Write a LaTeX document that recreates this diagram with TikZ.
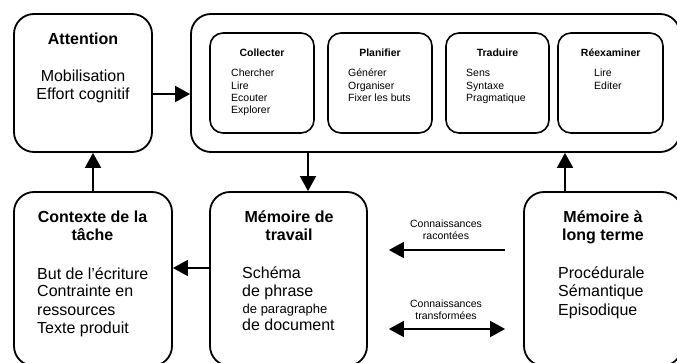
\documentclass[tikz,border=0pt]{standalone}
\usepackage{fontspec}
\setmainfont{Liberation Sans}
\usetikzlibrary{arrows.meta}
\begin{document}
\begin{tikzpicture}[x=1pt,y=-1pt,
  box/.style={draw, line width=1.8pt, rounded corners=20pt, inner sep=0pt},
  subbox/.style={draw, line width=1.6pt, rounded corners=13pt, inner sep=0pt,
                 minimum height=100pt},
  arr/.style={line width=1.8pt, -{Triangle[length=15pt,width=16pt]}},
  dbl/.style={line width=1.8pt, {Triangle[length=15pt,width=16pt]}-{Triangle[length=15pt,width=16pt]}},
  big/.style={font=\fontsize{16}{18}\selectfont, inner sep=0pt},
  bigb/.style={font=\bfseries\fontsize{16}{18}\selectfont, inner sep=0pt, align=center},
  small/.style={font=\fontsize{10.5}{12.3}\selectfont, inner sep=0pt},
  smallb/.style={font=\bfseries\fontsize{10.5}{12.3}\selectfont, inner sep=0pt},
]
\useasboundingbox (0,0) rectangle (677,363);
\clip (0,0) rectangle (677,363);

% top row: attention and the writing process
\node[box, minimum width=138pt, minimum height=138pt] (att) at (83,83) {};
\node[box, minimum width=489pt, minimum height=138pt] (proc) at (435.5,83) {};
\node[subbox, minimum width=104pt] (col) at (262,83) {};
\node[subbox, minimum width=104pt] (pla) at (380,83) {};
\node[subbox, minimum width=103pt] (tra) at (497.5,83) {};
\node[subbox, minimum width=105pt] (ree) at (610.5,83) {};

% bottom row: context, working memory, long-term memory
\node[box, minimum width=158pt, minimum height=174pt] (ctx) at (93,279) {};
\node[box, minimum width=157pt, minimum height=174pt] (mt) at (288.5,279) {};
\node[box, minimum width=158pt, minimum height=174pt] (mlt) at (603,279) {};

% texts (multi-line nodes are placed by the baseline of their last line)
\node[bigb, anchor=base] (att-t) at (83,45) {Attention};
\node[big, anchor=base, align=center] (att-x) at (83,100) {Mobilisation\\Effort cognitif};

\node[smallb, anchor=base] (col-t) at (262,57) {Collecter};
\node[small, anchor=base west, align=left] (col-x) at (231,113.9) {Chercher\\Lire\\Ecouter\\Explorer};
\node[smallb, anchor=base] (pla-t) at (380,57) {Planifier};
\node[small, anchor=base west, align=left] (pla-x) at (348,101.6) {Générer\\Organiser\\Fixer les buts};
\node[smallb, anchor=base] (tra-t) at (497.5,57) {Traduire};
\node[small, anchor=base west, align=left] (tra-x) at (466,101.6) {Sens\\Syntaxe\\Pragmatique};
\node[smallb, anchor=base] (ree-t) at (610.7,57) {Réexaminer};
\node[small, anchor=base west, align=left] (ree-x) at (594,89.3) {Lire\\Editer};

\node[bigb, anchor=base] (ctx-t) at (92.5,241) {Contexte de la\\tâche};
\node[big, anchor=base west, align=left] (ctx-x) at (37,333) {But de l’écriture\\Contrainte en\\ressources\\Texte produit};

\node[bigb, anchor=base] (mt-t) at (289,241) {Mémoire de\\travail};
\node[big, anchor=base west] (mt-a) at (242,279) {Schéma};
\node[big, anchor=base west] (mt-b) at (242,297) {de phrase};
\node[inner sep=0pt, font=\fontsize{13}{15}\selectfont, anchor=base west] (mt-c) at (242.5,313) {de paragraphe};
\node[big, anchor=base west] (mt-d) at (242,330) {de document};

\node[bigb, anchor=base] (mlt-t) at (603,241) {Mémoire à\\long terme};
\node[big, anchor=base west, align=left] (mlt-x) at (558,315) {Procédurale\\Sémantique\\Episodique};

\node[small, anchor=base, align=center] (k1) at (446,239.5) {Connaissances\\racontées};
\node[small, anchor=base, align=center] (k2) at (446,319.5) {Connaissances\\transformées};

% connectors
\coordinate (ya) at (0,94);
\coordinate (xb) at (308,0);
\coordinate (xc) at (565,0);
\coordinate (xd) at (93,0);
\coordinate (ye) at (0,268);
\coordinate (yf) at (0,250);
\coordinate (yg) at (0,329);
\draw[arr] (att.east |- ya) -- (proc.west |- ya);
\draw[arr] (proc.south -| xb) -- (mt.north -| xb);
\draw[arr] (mlt.north -| xc) -- (proc.south -| xc);
\draw[arr] (ctx.north -| xd) -- (att.south -| xd);
\draw[arr] (mt.west |- ye) -- (ctx.east |- ye);
\draw[arr, shorten <=18pt, shorten >=21pt] (mlt.west |- yf) -- (mt.east |- yf);
\draw[dbl, shorten <=18pt, shorten >=21pt] (mlt.west |- yg) -- (mt.east |- yg);
\end{tikzpicture}
\end{document}
